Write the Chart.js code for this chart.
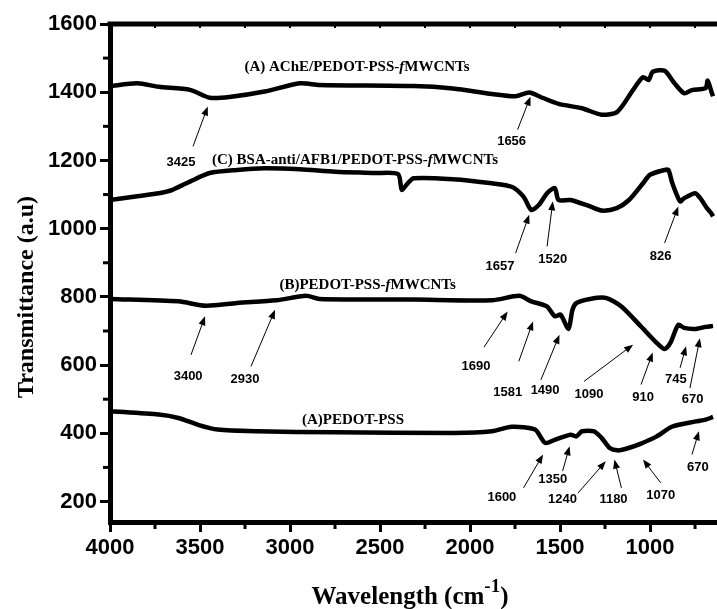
<!DOCTYPE html>
<html><head><meta charset="utf-8">
<script src="https://cdn.jsdelivr.net/npm/chart.js@4.4.1/dist/chart.umd.min.js"></script>
<style>html,body{margin:0;padding:0;background:#fff;overflow:hidden}</style>
</head><body>
<canvas id="c" width="717" height="609" style="width:717px;height:609px;display:block"></canvas>
<script>
// ---- data (wavenumber in cm-1, transmittance a.u.) ----
const xMajorTicks = [4000, 3500, 3000, 2500, 2000, 1500, 1000];
const xMinorTicks = [3750, 3250, 2750, 2250, 1750, 1250, 750];
const yMajorTicks = [200, 400, 600, 800, 1000, 1200, 1400, 1600];
const yMinorTicks = [300, 500, 700, 900, 1100, 1300, 1500];

const acheX = [4000,3849,3729,3555,3446,3337,3141,2945,2836,2313,2096,1878,1747,1671,1594,1508,1378,1268,1181,1094,1039,1007,985,919,865,811,767,691,680,658,650];
const acheY = [1418,1426,1416,1407,1384,1386,1402,1426,1421,1418,1411,1395,1388,1399,1383,1366,1353,1334,1343,1407,1444,1436,1460,1463,1427,1397,1406,1412,1434,1400,1388];

const bsaX = [4000,3838,3729,3653,3556,3446,3294,3141,2945,2750,2531,2400,2379,2346,2313,2096,1878,1769,1703,1660,1617,1572,1529,1508,1442,1333,1268,1185,1117,1039,1000,919,898,876,833,811,750,722,685,661,650];
const bsaY = [1084,1096,1104,1114,1138,1163,1172,1177,1174,1167,1163,1160,1114,1133,1148,1145,1133,1123,1094,1055,1070,1104,1119,1084,1084,1065,1053,1060,1084,1133,1158,1172,1172,1133,1080,1089,1104,1090,1061,1046,1036];

const pssMwX = [4000,3620,3468,3294,3076,2912,2836,2313,1878,1726,1660,1573,1529,1497,1453,1431,1409,1333,1246,1159,1050,963,919,887,843,811,746,691,650];
const pssMwY = [794,787,774,782,790,803,794,792,790,803,787,772,743,748,706,762,782,794,797,772,713,665,647,665,718,709,706,712,715];

const pssX = [4000,3729,3620,3511,3402,3184,2750,2096,1878,1769,1639,1583,1529,1442,1409,1378,1311,1268,1224,1181,1137,1050,963,876,746,691,650];
const pssY = [465,455,445,425,411,406,403,401,406,419,411,372,381,396,391,406,406,386,357,350,354,370,391,420,435,440,448];

// series labels: [prefix, italic part, suffix], position in data units
const seriesLabelParts = [
  ['(A) AChE/PEDOT-PSS-', 'f', 'MWCNTs'],
  ['(C) BSA-anti/AFB1/PEDOT-PSS-', 'f', 'MWCNTs'],
  ['(B)PEDOT-PSS-', 'f', 'MWCNTs'],
  ['(A)PEDOT-PSS', '', '']
];
const seriesLabelX = [2628, 2639, 2569, 2650];
const seriesLabelY = [1474, 1202, 835, 438];

// peak annotations: text, text position, arrow tail, arrow tip (data units)
const peakText  = ['3425','1656','1657','1520','826','3400','2930','1690','1581','1490','1090','910','745','670','1600','1350','1240','1180','1070','670'];
const peakTextX = [3606,1769,1834,1540,941,3566,3250,1967,1791,1583,1339,1039,856,763,1823,1540,1486,1203,941,734];
const peakTextY = [1193,1255,889,909,918,567,557,596,520,526,513,504,557,499,211,264,206,206,217,299];
const tailX = [3539,1736,1747,1572,919,3550,3217,1922,1729,1606,1367,1050,833,778,1703,1486,1400,1159,941,767];
const tailY = [1241,1290,928,948,958,630,596,653,611,557,552,543,592,533,240,289,225,240,255,338];
const tipX  = [3457,1664,1671,1540,843,3472,3083,1791,1650,1503,1094,985,800,723,1594,1447,1246,1198,1039,728];
const tipY  = [1358,1387,1041,1080,1065,743,762,757,728,689,660,637,655,679,338,362,318,323,323,406];

function pts(xs, ys){ return xs.map((x,i)=>({x:x, y:ys[i]})); }

const lineStyle = {borderColor:'#000', borderWidth:4.5, pointRadius:0, tension:0.25, fill:false};

const decor = {
  id:'decor',
  afterDraw(chart){
    const ctx = chart.ctx, xs = chart.scales.x, ys = chart.scales.y, ca = chart.chartArea;
    ctx.save();
    ctx.fillStyle = '#000'; ctx.strokeStyle = '#000';
    // top frame line
    ctx.lineWidth = 5;
    ctx.beginPath(); ctx.moveTo(ca.left-2.5, ca.top); ctx.lineTo(ca.right, ca.top); ctx.stroke();
    // inward tiny ticks on top line
    ctx.lineWidth = 2;
    xMajorTicks.concat(xMinorTicks).forEach(v=>{
      const px = xs.getPixelForValue(v);
      ctx.beginPath(); ctx.moveTo(px, ca.top); ctx.lineTo(px, ca.top+4); ctx.stroke();
    });
    // minor ticks
    ctx.lineWidth = 3;
    xMinorTicks.forEach(v=>{
      const px = xs.getPixelForValue(v);
      ctx.beginPath(); ctx.moveTo(px, ca.bottom); ctx.lineTo(px, ca.bottom+7); ctx.stroke();
    });
    yMinorTicks.forEach(v=>{
      const py = ys.getPixelForValue(v);
      ctx.beginPath(); ctx.moveTo(ca.left, py); ctx.lineTo(ca.left-7, py); ctx.stroke();
    });
    // series labels
    ctx.textBaseline = 'middle';
    seriesLabelParts.forEach((p,i)=>{
      const fN = 'bold 15px "Liberation Serif", "Times New Roman", serif';
      const fI = 'italic bold 15px "Liberation Serif", "Times New Roman", serif';
      ctx.font = fN; const w0 = ctx.measureText(p[0]).width, w2 = ctx.measureText(p[2]).width;
      ctx.font = fI; const w1 = ctx.measureText(p[1]).width;
      let x = xs.getPixelForValue(seriesLabelX[i]) - (w0+w1+w2)/2;
      const y = ys.getPixelForValue(seriesLabelY[i]);
      ctx.textAlign = 'left';
      ctx.font = fN; ctx.fillText(p[0], x, y); x += w0;
      ctx.font = fI; ctx.fillText(p[1], x, y); x += w1;
      ctx.font = fN; ctx.fillText(p[2], x, y);
    });
    // peak annotations
    ctx.font = 'bold 13px "Liberation Sans", Arial, sans-serif';
    ctx.textAlign = 'center';
    peakText.forEach((t,i)=>{
      ctx.fillText(t, xs.getPixelForValue(peakTextX[i]), ys.getPixelForValue(peakTextY[i]));
      const x0 = xs.getPixelForValue(tailX[i]), y0 = ys.getPixelForValue(tailY[i]);
      const x1 = xs.getPixelForValue(tipX[i]), y1 = ys.getPixelForValue(tipY[i]);
      const a = Math.atan2(y1-y0, x1-x0), L = 9, W = 3.5;
      ctx.lineWidth = 1;
      ctx.beginPath(); ctx.moveTo(x0,y0); ctx.lineTo(x1 - L*Math.cos(a)*0.8, y1 - L*Math.sin(a)*0.8); ctx.stroke();
      ctx.beginPath();
      ctx.moveTo(x1,y1);
      ctx.lineTo(x1 - L*Math.cos(a) + W*Math.sin(a), y1 - L*Math.sin(a) - W*Math.cos(a));
      ctx.lineTo(x1 - L*Math.cos(a) - W*Math.sin(a), y1 - L*Math.sin(a) + W*Math.cos(a));
      ctx.closePath(); ctx.fill();
    });
    // axis titles
    ctx.save();
    ctx.translate(27, 297); ctx.rotate(-Math.PI/2);
    ctx.font = 'bold 24px "Liberation Serif", "Times New Roman", serif';
    ctx.textAlign = 'center'; ctx.textBaseline = 'middle';
    ctx.fillText('Transmittance (a.u)', 0, 0);
    ctx.restore();
    const fT = 'bold 25px "Liberation Serif", "Times New Roman", serif';
    const fS = 'bold 19px "Liberation Serif", "Times New Roman", serif';
    ctx.textAlign = 'left'; ctx.textBaseline = 'alphabetic';
    ctx.font = fT; const a1 = ctx.measureText('Wavelength (cm').width, a3 = ctx.measureText(')').width;
    ctx.font = fS; const a2 = ctx.measureText('-1').width;
    let tx = 410 - (a1+a2+a3)/2; const by = 604;
    ctx.font = fT; ctx.fillText('Wavelength (cm', tx, by); tx += a1;
    ctx.font = fS; ctx.fillText('-1', tx, by-12); tx += a2;
    ctx.font = fT; ctx.fillText(')', tx, by);
    ctx.restore();
  }
};

const tickFont = {family:'"Liberation Sans", Arial, sans-serif', size:22, weight:'bold'};

new Chart(document.getElementById('c'), {
  type:'line',
  data:{datasets:[
    Object.assign({label:'AChE/PEDOT-PSS-fMWCNTs', data:pts(acheX, acheY)}, lineStyle),
    Object.assign({label:'BSA-anti/AFB1/PEDOT-PSS-fMWCNTs', data:pts(bsaX, bsaY)}, lineStyle),
    Object.assign({label:'PEDOT-PSS-fMWCNTs', data:pts(pssMwX, pssMwY)}, lineStyle),
    Object.assign({label:'PEDOT-PSS', data:pts(pssX, pssY)}, lineStyle)
  ]},
  options:{
    responsive:false, animation:false, devicePixelRatio:1,
    layout:{padding:{top:24, right:0, left:0, bottom:0}},
    plugins:{legend:{display:false}, tooltip:{enabled:false}},
    scales:{
      x:{type:'linear', reverse:true, min:628, max:4000,
        afterBuildTicks(s){ s.ticks = xMajorTicks.map(v=>({value:v})); },
        afterFit(s){ s.height = 87; },
        ticks:{autoSkip:false, maxRotation:0, color:'#000', font:tickFont, padding:3, callback:v=>String(v)},
        grid:{drawOnChartArea:false, drawTicks:true, tickLength:10, tickWidth:3, tickColor:'#000'},
        border:{display:true, color:'#000', width:5}
      },
      y:{type:'linear', min:140, max:1600,
        afterBuildTicks(s){ s.ticks = yMajorTicks.map(v=>({value:v})); },
        afterFit(s){ s.width = 110; },
        ticks:{autoSkip:false, color:'#000', font:tickFont, padding:3, callback:v=>String(v)},
        grid:{drawOnChartArea:false, drawTicks:true, tickLength:10, tickWidth:3, tickColor:'#000'},
        border:{display:true, color:'#000', width:5}
      }
    }
  },
  plugins:[decor]
});
</script>
</body></html>
